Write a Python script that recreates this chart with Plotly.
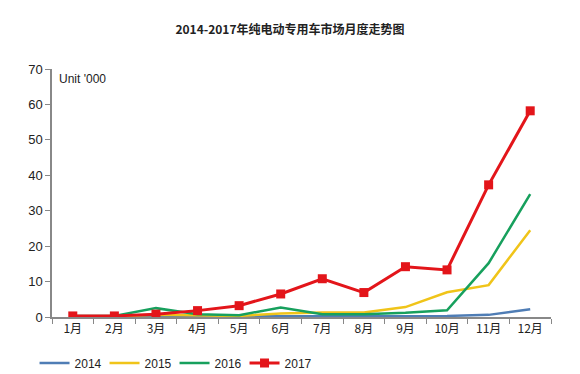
import plotly.graph_objects as go

months = ["1月", "2月", "3月", "4月", "5月", "6月", "7月", "8月", "9月", "10月", "11月", "12月"]
y2014 = [0.1, 0.1, 0.2, 0.2, 0.1, 0.2, 0.2, 0.2, 0.3, 0.3, 0.6, 2.2]
y2015 = [0.2, 0.2, 0.6, 0.5, 0.3, 1.0, 1.3, 1.3, 2.8, 7.0, 9.0, 24.5]
y2016 = [0.3, 0.3, 2.5, 0.8, 0.5, 2.7, 0.8, 0.8, 1.2, 1.9, 15.2, 34.7]
y2017 = [0.3, 0.3, 0.8, 1.8, 3.2, 6.5, 10.8, 6.9, 14.2, 13.3, 37.3, 58.2]

fig = go.Figure()
fig.add_trace(go.Scatter(x=months, y=y2014, name="2014", mode="lines",
                         line=dict(color="#4F7DB5", width=2.5)))
fig.add_trace(go.Scatter(x=months, y=y2015, name="2015", mode="lines",
                         line=dict(color="#F0C419", width=2.5)))
fig.add_trace(go.Scatter(x=months, y=y2016, name="2016", mode="lines",
                         line=dict(color="#17A05D", width=2.5)))
fig.add_trace(go.Scatter(x=months, y=y2017, name="2017", mode="lines+markers",
                         line=dict(color="#E3151A", width=3),
                         marker=dict(symbol="square", size=9, color="#E3151A")))

fig.update_layout(
    width=580, height=374,
    margin=dict(l=52, r=29, t=69, b=57, autoexpand=False),
    paper_bgcolor="white", plot_bgcolor="white",
    font=dict(family="Liberation Sans, Arial, sans-serif", size=12, color="#222"),
    title=dict(text="<b>2014-2017年纯电动专用车市场月度走势图</b>",
               font=dict(family="Noto Sans CJK SC", size=12, color="#222"),
               x=0.5, xanchor="center", y=0.92, yanchor="middle"),
    showlegend=True,
    legend=dict(orientation="h", x=-0.035, xanchor="left", y=-0.185, yanchor="middle",
                entrywidth=25, font=dict(size=12, color="#222"),
                itemwidth=30, tracegroupgap=0),
    annotations=[dict(text="Unit '000", xref="paper", yref="paper", x=0.01, y=0.995,
                      xanchor="left", yanchor="top", showarrow=False,
                      font=dict(size=12, color="#222"))],
)
fig.update_xaxes(type="category", range=[-0.5, 11.5], tickson="boundaries",
                 ticks="outside", ticklen=5, tickcolor="#888", automargin=False,
                 showline=True, linecolor="#888", linewidth=1.5,
                 showgrid=False, tickfont=dict(family="Noto Sans CJK SC", size=12))
fig.update_yaxes(range=[0, 70], dtick=10, ticks="outside", ticklen=5, tickcolor="#888",
                 showline=True, linecolor="#888", linewidth=1.5, automargin=False,
                 showgrid=False, zeroline=False, tickfont=dict(size=13))

fig.write_html("out.html", config={"displayModeBar": False},
               post_script="document.body.style.margin='0';")
